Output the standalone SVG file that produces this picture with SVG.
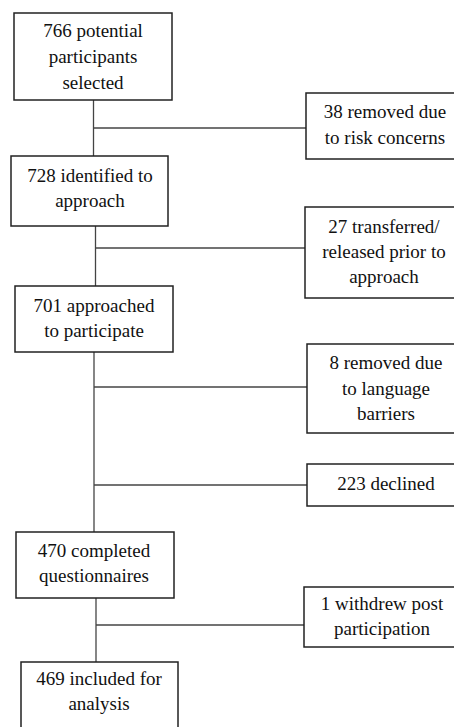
<svg xmlns="http://www.w3.org/2000/svg" width="454" height="727" viewBox="0 0 454 727">
<style>
.box{fill:#fff;stroke:#222;stroke-width:1.5}
text{font-size:19px;fill:#111;text-anchor:middle}
.conn line{stroke:#444;stroke-width:1.3}
</style>
<rect width="454" height="727" fill="#fff"/>
<g class="conn">
<line x1="93.5" y1="100" x2="93.5" y2="156"/>
<line x1="93.5" y1="128" x2="306" y2="128"/>
<line x1="95.5" y1="226" x2="95.5" y2="286"/>
<line x1="95.5" y1="248" x2="305" y2="248"/>
<line x1="94" y1="352" x2="94" y2="532"/>
<line x1="94" y1="387" x2="307" y2="387"/>
<line x1="94" y1="485" x2="307" y2="485"/>
<line x1="96" y1="598" x2="96" y2="662"/>
<line x1="96" y1="625" x2="304" y2="625"/>
</g>
<g font-family="Liberation Serif">
<g id="n766">
<rect class="box" x="14" y="13" width="158" height="87"/>
<text x="93" y="37">766 potential</text>
<text x="93" y="63">participants</text>
<text x="93" y="89">selected</text>
</g>
<g id="n38">
<rect class="box" x="306" y="93" width="160" height="66"/>
<text x="385" y="118">38 removed due</text>
<text x="385" y="144">to risk concerns</text>
</g>
<g id="n728">
<rect class="box" x="11" y="156" width="157" height="70"/>
<text x="90" y="182">728 identified to</text>
<text x="90" y="207">approach</text>
</g>
<g id="n27">
<rect class="box" x="305" y="207" width="160" height="91"/>
<text x="384" y="233">27 transferred/</text>
<text x="384" y="258">released prior to</text>
<text x="384" y="283">approach</text>
</g>
<g id="n701">
<rect class="box" x="15" y="286" width="158" height="66"/>
<text x="94" y="312">701 approached</text>
<text x="94" y="337">to participate</text>
</g>
<g id="n8">
<rect class="box" x="307" y="344" width="160" height="89"/>
<text x="386" y="369">8 removed due</text>
<text x="386" y="395">to language</text>
<text x="386" y="420">barriers</text>
</g>
<g id="n223">
<rect class="box" x="307" y="464" width="160" height="42"/>
<text x="386" y="490">223 declined</text>
</g>
<g id="n470">
<rect class="box" x="16" y="532" width="158" height="66"/>
<text x="94" y="557">470 completed</text>
<text x="94" y="582">questionnaires</text>
</g>
<g id="n1">
<rect class="box" x="304" y="587" width="160" height="60"/>
<text x="382" y="610">1 withdrew post</text>
<text x="382" y="635">participation</text>
</g>
<g id="n469">
<rect class="box" x="21" y="662" width="157" height="80"/>
<text x="99" y="685">469 included for</text>
<text x="99" y="710">analysis</text>
</g>
</g>
</svg>
